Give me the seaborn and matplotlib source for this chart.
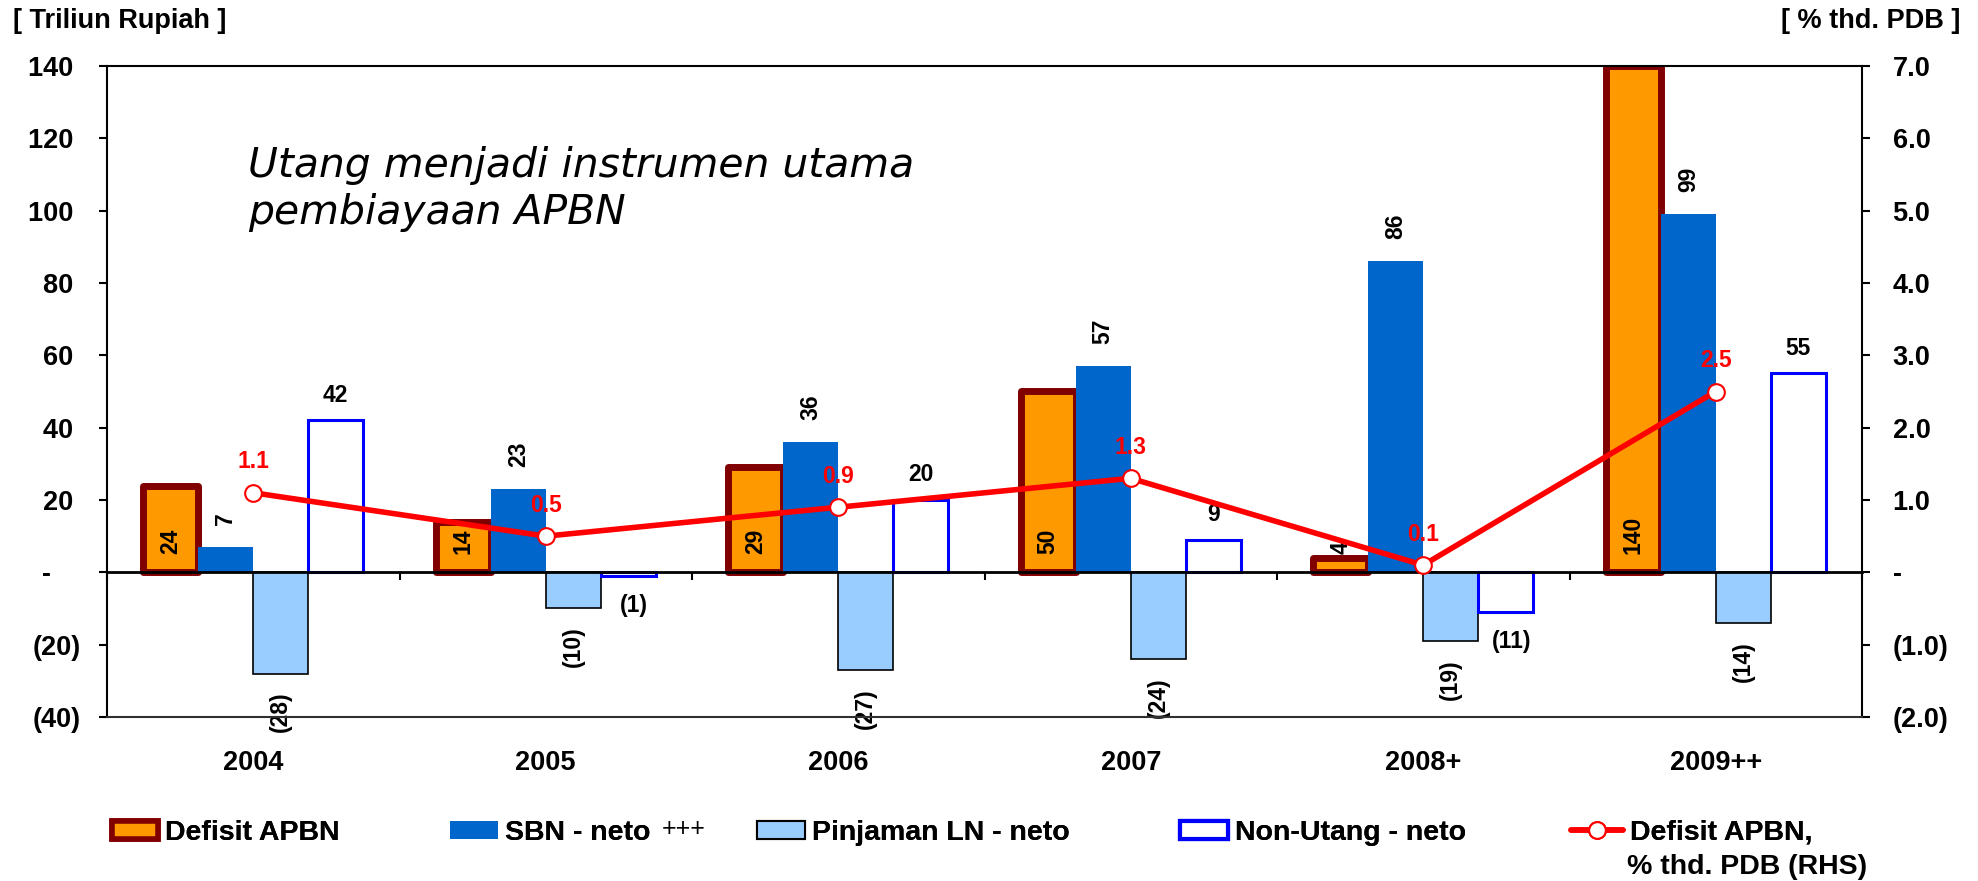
import numpy as np
import pandas as pd
import matplotlib
matplotlib.use("Agg")
import matplotlib.pyplot as plt
import seaborn as sns
from matplotlib.patches import Patch
from matplotlib.lines import Line2D

# ---------------- data ----------------
categories = ['2004', '2005', '2006', '2007', '2008+', '2009++']
defisit = [24, 14, 29, 50, 4, 140]
sbn = [7, 23, 36, 57, 86, 99]
pinjaman = [-28, -10, -27, -24, -19, -14]
non_utang = [42, -1, 20, 9, -11, 55]
defisit_pdb = [1.1, 0.5, 0.9, 1.3, 0.1, 2.5]

series_names = ['Defisit APBN', 'SBN - neto', 'Pinjaman LN - neto', 'Non-Utang - neto']
left_ticks = [140, 120, 100, 80, 60, 40, 20, 0, -20, -40]
right_ticks = [7.0, 6.0, 5.0, 4.0, 3.0, 2.0, 1.0, 0.0, -1.0, -2.0]

# ---------------- style ----------------
sns.set_style('white')
plt.rcParams['font.family'] = ['Liberation Sans', 'DejaVu Sans']
plt.rcParams['font.weight'] = 'bold'
for key in ['text.color', 'axes.labelcolor', 'xtick.color', 'ytick.color']:
    plt.rcParams[key] = 'black'

C_DEF = '#FF9900'
C_DEF_EDGE = '#800000'
C_SBN = '#0066CC'
C_PIN = '#99CCFF'
C_NON = '#0000FF'
C_LINE = '#FF0000'

W, H = 1978, 881
fig = plt.figure(figsize=(W / 100, H / 100), dpi=100)
ax = fig.add_axes([107 / W, 1 - 717 / H, (1862 - 107) / W, (717 - 66) / H])

rows = []
for name, vals in zip(series_names, [defisit, sbn, pinjaman, non_utang]):
    for c, v in zip(categories, vals):
        rows.append((c, name, v))
df = pd.DataFrame(rows, columns=['Tahun', 'Seri', 'Nilai'])

palette = {'Defisit APBN': C_DEF, 'SBN - neto': C_SBN,
           'Pinjaman LN - neto': C_PIN, 'Non-Utang - neto': '#FFFFFF'}
sns.barplot(data=df, x='Tahun', y='Nilai', hue='Seri', order=categories,
            hue_order=series_names, palette=palette, saturation=1,
            width=0.752, gap=0, errorbar=None, legend=False, ax=ax)

cont_def, cont_sbn, cont_pin, cont_non = ax.containers[:4]
for b in cont_def:
    b.set_edgecolor(C_DEF_EDGE); b.set_linewidth(5); b.set_joinstyle('round')
for b in cont_sbn:
    b.set_edgecolor('none'); b.set_linewidth(0)
for b in cont_pin:
    b.set_edgecolor('black'); b.set_linewidth(1.2)
for b in cont_non:
    b.set_facecolor('white'); b.set_edgecolor(C_NON); b.set_linewidth(2.2)


def fmt_val(v):
    return f"({abs(v):.0f})" if v < 0 else f"{v:.0f}"


LFS = 16.5
for b, v in zip(cont_def, defisit):
    ax.annotate(fmt_val(v), (b.get_x() + b.get_width() / 2, 0), xytext=(0, 13),
                textcoords='offset points', ha='center', va='bottom', rotation=90,
                fontsize=LFS, fontweight='bold', color='black')
for b, v in zip(cont_sbn, sbn):
    ax.annotate(fmt_val(v), (b.get_x() + b.get_width() / 2, v), xytext=(0, 16),
                textcoords='offset points', ha='center', va='bottom', rotation=90,
                fontsize=LFS, fontweight='bold', color='black')
for b, v in zip(cont_pin, pinjaman):
    ax.annotate(fmt_val(v), (b.get_x() + b.get_width() / 2, v), xytext=(0, -13),
                textcoords='offset points', ha='center', va='top', rotation=90,
                fontsize=LFS, fontweight='bold', color='black')
for b, v in zip(cont_non, non_utang):
    if v >= 0:
        ax.annotate(fmt_val(v), (b.get_x() + b.get_width() / 2, v), xytext=(0, 10),
                    textcoords='offset points', ha='center', va='bottom',
                    fontsize=LFS, fontweight='bold', color='black')
    else:
        ax.annotate(fmt_val(v), (b.get_x() + b.get_width() / 2, v), xytext=(4, -13),
                    textcoords='offset points', ha='center', va='top',
                    fontsize=LFS, fontweight='bold', color='black')

# ---------------- axes (left) ----------------
ax.set_ylim(-40, 140)
ax.set_xlim(-0.5, len(categories) - 0.5)
ax.set_xlabel('')
ax.set_ylabel('')


def fmt_left(v):
    if v == 0:
        return '-    '
    return f"({abs(v):.0f})" if v < 0 else f"{v:.0f} "


ax.set_yticks(left_ticks)
ax.set_yticklabels([fmt_left(v) for v in left_ticks])
ax.tick_params(axis='y', left=True, direction='out', length=6, width=1.5,
               pad=13, labelsize=19.5, colors='black')

ax.set_xticks(range(len(categories)))
ax.set_xticklabels(categories)
ax.set_xticks(np.arange(-0.5, len(categories), 1.0), minor=True)
ax.tick_params(axis='x', which='major', bottom=True, length=0, pad=128,
               labelsize=19.5, colors='black')
ax.tick_params(axis='x', which='minor', bottom=True, direction='out', length=6,
               width=1.5, colors='black')
for lab in ax.get_xticklabels() + ax.get_yticklabels():
    lab.set_fontweight('bold')

ax.spines['bottom'].set_position(('data', 0))
ax.spines['bottom'].set_linewidth(2)
ax.spines['right'].set_visible(False)
for s in ['left', 'top']:
    ax.spines[s].set_linewidth(1.5)
    ax.spines[s].set_color('black')
ax.spines['bottom'].set_color('black')

# ---------------- right axis + line ----------------
ax2 = ax.twinx()
sns.lineplot(x=np.arange(len(categories)), y=defisit_pdb, ax=ax2, color=C_LINE,
             linewidth=4, marker='o', markersize=12, markerfacecolor='white',
             markeredgecolor=C_LINE, markeredgewidth=1.5, sort=False)
for i, v in enumerate(defisit_pdb):
    ax2.annotate(f"{v:.1f}", (i, v), xytext=(0, 14), textcoords='offset points',
                 ha='center', va='bottom', fontsize=LFS, fontweight='bold', color=C_LINE)

ax2.set_ylim(-2, 7)
ax.set_xlim(-0.5, len(categories) - 0.5)


def fmt_right(v):
    if v == 0:
        return '-'
    return f"({abs(v):.1f})" if v < 0 else f"{v:.1f}"


ax2.set_yticks(right_ticks)
ax2.set_yticklabels([fmt_right(v) for v in right_ticks])
ax2.tick_params(axis='y', right=True, direction='out', length=6, width=1.5,
                pad=16, labelsize=19.5, colors='black')
for lab in ax2.get_yticklabels():
    lab.set_fontweight('bold')
ax2.set_ylabel('')
ax2.spines['left'].set_visible(False)
ax2.spines['top'].set_visible(False)
ax2.spines['right'].set_linewidth(1.5)
ax2.spines['right'].set_color('black')
ax2.spines['bottom'].set_linewidth(1.5)
ax2.spines['bottom'].set_color('#303030')

# ---------------- texts ----------------
fig.text(13 / W, 1 - 21 / H, '[ Triliun Rupiah ]', ha='left', va='center',
         fontsize=19.5, fontweight='bold', color='black')
fig.text(1960 / W, 1 - 21 / H, '[ % thd. PDB ]', ha='right', va='center',
         fontsize=19.5, fontweight='bold', color='black')
fig.text(248 / W, 1 - 177 / H, 'Utang menjadi instrumen utama', ha='left',
         va='baseline', fontsize=29.4, family='DejaVu Sans', style='italic',
         fontweight='normal', color='black')
fig.text(248 / W, 1 - 224 / H, 'pembiayaan APBN', ha='left',
         va='baseline', fontsize=29.4, family='DejaVu Sans', style='italic',
         fontweight='normal', color='black')

# ---------------- legend ----------------
handles = [
    Patch(facecolor=C_DEF, edgecolor=C_DEF_EDGE, linewidth=4, joinstyle='round'),
    Patch(facecolor=C_SBN, edgecolor='none'),
    Patch(facecolor=C_PIN, edgecolor='black', linewidth=1.5),
    Patch(facecolor='white', edgecolor=C_NON, linewidth=3),
    Line2D([], [], color=C_LINE, linewidth=4, marker='o', markersize=12,
           markerfacecolor='white', markeredgecolor=C_LINE, markeredgewidth=1.5),
]
labels = ['Defisit APBN', 'SBN - neto', 'Pinjaman LN - neto',
          'Non-Utang - neto', 'Defisit APBN,']
xs = [112, 450, 757, 1180, 1571]
hl = [1.62, 1.69, 1.69, 1.69, 1.83]
LEG_Y = 1 - 833 / H
for h, l, x, L in zip(handles, labels, xs, hl):
    leg = fig.legend(handles=[h], labels=[l], loc='center left',
                     bbox_to_anchor=(x / W, LEG_Y), frameon=False, borderpad=0,
                     borderaxespad=0, handlelength=L, handleheight=0.6,
                     handletextpad=0.25, prop={'size': 20.5, 'weight': 'bold'},
                     labelcolor='black')
    fig.add_artist(leg)
fig.text(662 / W, 1 - 829 / H, '+++', ha='left', va='center',
         fontsize=18, fontweight='normal', color='black')
fig.text(1627 / W, 1 - 867 / H, '% thd. PDB (RHS)', ha='left', va='center',
         fontsize=20.5, fontweight='bold', color='black')

fig.savefig('out.png', dpi=100)
